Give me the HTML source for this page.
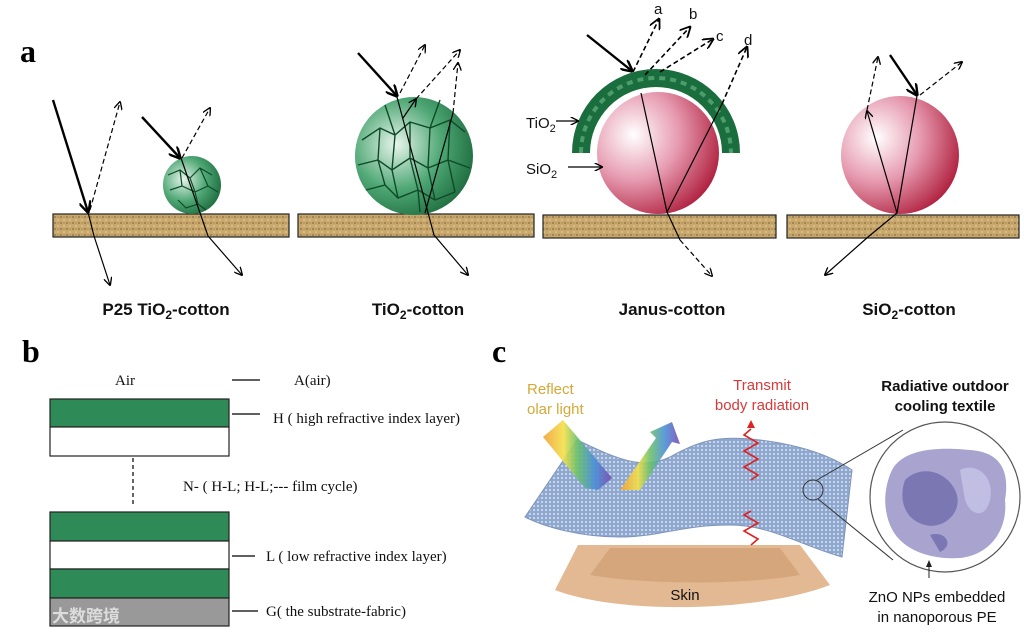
<!DOCTYPE html>
<html><head><meta charset="utf-8"><style>
html,body{margin:0;padding:0;background:#fff;}
svg{display:block}
.lb{font-family:"Liberation Sans",sans-serif;font-weight:bold;font-size:17px;fill:#111}
.se{font-family:"Liberation Serif",serif;font-size:15px;fill:#111}
.sa{font-family:"Liberation Sans",sans-serif;font-size:15px}
</style></head><body>
<svg width="1024" height="636" viewBox="0 0 1024 636" xmlns="http://www.w3.org/2000/svg">
<defs>
<pattern id="cot" width="6" height="6" patternUnits="userSpaceOnUse">
<rect width="6" height="6" fill="#c9a86e"/><circle cx="1" cy="1" r="0.9" fill="#8a6a3a"/><circle cx="4" cy="4" r="0.8" fill="#e6d2a6"/><circle cx="4" cy="1" r="0.6" fill="#9c7b45"/>
</pattern>
<pattern id="mesh" width="4" height="4" patternUnits="userSpaceOnUse">
<rect width="4" height="4" fill="#8ea8d0"/><circle cx="2" cy="2" r="1" fill="#d8e3f3"/>
</pattern>
<radialGradient id="gr" cx="0.35" cy="0.4" r="0.7"><stop offset="0" stop-color="#e8f5ec"/><stop offset="0.55" stop-color="#4ea774"/><stop offset="1" stop-color="#1d6b3e"/></radialGradient>
<radialGradient id="pk" cx="0.3" cy="0.35" r="0.75"><stop offset="0" stop-color="#fff"/><stop offset="0.5" stop-color="#e69ab0"/><stop offset="1" stop-color="#b0213f"/></radialGradient>
<linearGradient id="rb" x1="0" y1="0" x2="1" y2="0"><stop offset="0" stop-color="#f2a33a"/><stop offset="0.3" stop-color="#f3e04a"/><stop offset="0.5" stop-color="#6cc26a"/><stop offset="0.75" stop-color="#4a8fd8"/><stop offset="1" stop-color="#7a4bb0"/></linearGradient>
<marker id="ah" viewBox="0 0 10 10" refX="9" refY="5" markerWidth="7" markerHeight="7" orient="auto"><path d="M0,0 L10,5 L0,10" fill="none" stroke="#000" stroke-width="1.6"/></marker>
<marker id="ahb" viewBox="0 0 10 10" refX="9" refY="5" markerWidth="5" markerHeight="5" orient="auto"><path d="M0,0 L10,5 L0,10" fill="none" stroke="#000" stroke-width="2"/></marker>
</defs>

<text x="20" y="62" font-family="Liberation Serif,serif" font-weight="bold" font-size="32">a</text>
<g stroke="#222" stroke-width="1.2">
<rect x="53" y="214" width="236" height="23" fill="url(#cot)"/>
<rect x="298" y="214" width="236" height="23" fill="url(#cot)"/>
<rect x="543" y="215" width="233" height="23" fill="url(#cot)"/>
<rect x="787" y="215" width="232" height="23" fill="url(#cot)"/>
</g>
<circle cx="192" cy="185" r="29" fill="url(#gr)"/>
<g stroke="#0f4a28" stroke-width="1.2" fill="none"><path d="M168,175 L180,170 L190,178 L200,168 L212,175 M170,190 L182,186 L195,192 L208,186 L218,192 M178,200 L186,208 L198,204 L206,210 M180,170 L182,186 M195,192 L198,204 M190,178 L195,192 M200,168 L208,186"/></g>
<circle cx="414" cy="156" r="59" fill="url(#gr)"/>
<g stroke="#0f4a28" stroke-width="1.4" fill="none"><path d="M362,140 L380,128 L395,135 L410,122 L430,128 L450,120 L465,132 M358,165 L378,160 L392,170 L410,158 L428,168 L448,160 L470,168 M366,190 L385,185 L398,198 L418,190 L435,200 L455,192 M380,128 L378,160 L385,185 M395,135 L392,170 L398,198 M410,122 L410,158 L418,190 L420,212 M430,128 L428,168 L435,200 M450,120 L448,160 L455,192 M385,105 L395,135 M440,100 L430,128"/></g>

<g stroke="#000" fill="none">
<line x1="53" y1="100" x2="88" y2="212" stroke-width="2.4" marker-end="url(#ahb)"/>
<polyline points="88,212 94,236 110,285" stroke-width="1.2" marker-end="url(#ah)"/>
<line x1="90" y1="210" x2="120" y2="102" stroke-width="1.2" stroke-dasharray="5,3" marker-end="url(#ah)"/>
<line x1="142" y1="117" x2="180" y2="158" stroke-width="2.4" marker-end="url(#ahb)"/>
<polyline points="181,158 208,236 242,275" stroke-width="1.2" marker-end="url(#ah)"/>
<line x1="182" y1="158" x2="210" y2="108" stroke-width="1.2" stroke-dasharray="5,3" marker-end="url(#ah)"/>
<line x1="358" y1="53" x2="397" y2="96" stroke-width="2.4" marker-end="url(#ahb)"/>
<polyline points="397,97 434,235 468,275" stroke-width="1.2" marker-end="url(#ah)"/>
<line x1="400" y1="93" x2="425" y2="45" stroke-width="1.2" stroke-dasharray="5,3" marker-end="url(#ah)"/>
<line x1="403" y1="118" x2="416" y2="99" stroke-width="1.2" marker-end="url(#ah)"/>
<line x1="416" y1="99" x2="460" y2="50" stroke-width="1.2" stroke-dasharray="5,3" marker-end="url(#ah)"/>
<line x1="425" y1="213" x2="453" y2="113" stroke-width="1.2"/>
<line x1="453" y1="113" x2="458" y2="63" stroke-width="1.2" stroke-dasharray="5,3" marker-end="url(#ah)"/>
</g>

<path d="M572,153 A84,84 0 0 1 740,153 L722,153 A66,66 0 0 0 590,153 Z" fill="#1a6e3d"/>
<path d="M581,153 A75,75 0 0 1 731,153" fill="none" stroke="#6fbb8c" stroke-width="4" stroke-dasharray="6,5" opacity="0.6"/>
<circle cx="658" cy="153" r="61" fill="url(#pk)"/>
<g stroke="#000" fill="none">
<line x1="587" y1="35" x2="632" y2="71" stroke-width="2.4" marker-end="url(#ahb)"/>
<polyline points="641,93 667,212 680,240" stroke-width="1.2"/>
<line x1="680" y1="240" x2="712" y2="276" stroke-width="1.2" stroke-dasharray="5,3" marker-end="url(#ah)"/>
<line x1="633" y1="72" x2="659" y2="19" stroke-width="1.6" stroke-dasharray="5,3" marker-end="url(#ah)"/>
<line x1="645" y1="75" x2="690" y2="27" stroke-width="1.6" stroke-dasharray="5,3" marker-end="url(#ah)"/>
<line x1="660" y1="72" x2="713" y2="39" stroke-width="1.6" stroke-dasharray="5,3" marker-end="url(#ah)"/>
<line x1="667" y1="212" x2="722" y2="104" stroke-width="1.2"/>
<line x1="722" y1="104" x2="747" y2="47" stroke-width="1.6" stroke-dasharray="5,3" marker-end="url(#ah)"/>
<line x1="556" y1="121" x2="578" y2="121" stroke-width="1.2" marker-end="url(#ah)"/>
<line x1="568" y1="167" x2="602" y2="167" stroke-width="1.2" marker-end="url(#ah)"/>
</g>
<g class="sa" fill="#111">
<text x="654" y="14">a</text><text x="689" y="19">b</text><text x="716" y="41">c</text><text x="744" y="45">d</text>
<text x="526" y="128">TiO<tspan font-size="11" dy="4">2</tspan></text>
<text x="526" y="174">SiO<tspan font-size="11" dy="4">2</tspan></text>
</g>

<circle cx="900" cy="155" r="59" fill="url(#pk)"/>
<g stroke="#000" fill="none">
<line x1="890" y1="55" x2="917" y2="95" stroke-width="2.4" marker-end="url(#ahb)"/>
<polyline points="917,96 897,213 868,237 825,275" stroke-width="1.2" marker-end="url(#ah)"/>
<line x1="897" y1="213" x2="867" y2="111" stroke-width="1.2" marker-end="url(#ah)"/>
<line x1="867" y1="110" x2="878" y2="57" stroke-width="1.2" stroke-dasharray="5,3" marker-end="url(#ah)"/>
<line x1="920" y1="95" x2="962" y2="62" stroke-width="1.2" stroke-dasharray="5,3" marker-end="url(#ah)"/>
</g>

<text class="lb" x="166" y="315" text-anchor="middle">P25 TiO<tspan font-size="12" dy="4">2</tspan><tspan dy="-4">-cotton</tspan></text>
<text class="lb" x="418" y="315" text-anchor="middle">TiO<tspan font-size="12" dy="4">2</tspan><tspan dy="-4">-cotton</tspan></text>
<text class="lb" x="672" y="315" text-anchor="middle">Janus-cotton</text>
<text class="lb" x="909" y="315" text-anchor="middle">SiO<tspan font-size="12" dy="4">2</tspan><tspan dy="-4">-cotton</tspan></text>

<text x="22" y="362" font-family="Liberation Serif,serif" font-weight="bold" font-size="32">b</text>
<g stroke="#222" stroke-width="1.2">
<rect x="50" y="399" width="179" height="28" fill="#2e8b57"/>
<rect x="50" y="427" width="179" height="29" fill="#fff"/>
<rect x="50" y="512" width="179" height="29" fill="#2e8b57"/>
<rect x="50" y="541" width="179" height="28" fill="#fff"/>
<rect x="50" y="569" width="179" height="29" fill="#2e8b57"/>
<rect x="50" y="598" width="179" height="28" fill="#999"/>
<line x1="133" y1="458" x2="133" y2="507" stroke-dasharray="4,3" stroke="#000"/>
<line x1="232" y1="380" x2="260" y2="380" stroke="#000"/>
<line x1="232" y1="414" x2="260" y2="414" stroke="#000"/>
<line x1="232" y1="556" x2="255" y2="556" stroke="#000"/>
<line x1="232" y1="611" x2="258" y2="611" stroke="#000"/>
</g>
<text class="se" x="115" y="385">Air</text>
<text class="se" x="294" y="385">A(air)</text>
<text class="se" x="273" y="423">H ( high refractive index layer)</text>
<text class="se" x="183" y="491">N- ( H-L; H-L;--- film cycle)</text>
<text class="se" x="266" y="561">L ( low refractive index layer)</text>
<text class="se" x="266" y="616">G( the substrate-fabric)</text>
<text x="52" y="622" font-family="Liberation Sans,'Noto Sans CJK SC',sans-serif" font-size="17" fill="#ddd" font-weight="bold">大数跨境</text>

<text x="492" y="362" font-family="Liberation Serif,serif" font-weight="bold" font-size="32">c</text>
<path d="M555,590 L578,545 L800,545 L830,585 C760,612 620,615 555,590 Z" fill="#e3b993"/>
<path d="M590,575 L610,548 L780,548 L800,575 C740,585 650,585 590,575 Z" fill="#d5a57c"/>
<text x="685" y="600" class="sa" fill="#111" text-anchor="middle" font-size="16">Skin</text>
<path d="M577,440 C610,455 640,472 670,457 C700,440 720,435 760,440 C800,445 830,455 852,470 L842,557 C800,545 770,525 730,525 C680,525 660,537 620,537 C580,537 545,527 525,517 Z" fill="url(#mesh)" stroke="#7d94b8"/>
<g opacity="0.9">
<polygon points="543,437 563,420 612,478 598,490 585,488" fill="url(#rb)"/>
<polygon points="620,490 640,490 672,442 680,444 672,422 650,432 656,438" fill="url(#rb)"/>
</g>
<path d="M751,545 l7,-6 l-14,-8 l14,-8 l-14,-8 l7,-4 M751,480 l7,-5 l-14,-8 l14,-8 l-14,-8 l14,-8 l-14,-8 l7,-6" fill="none" stroke="#d22" stroke-width="1.6"/>
<polygon points="751,420 747,428 755,428" fill="#d22"/>
<circle cx="813" cy="490" r="10" fill="none" stroke="#333"/>
<line x1="817" y1="480" x2="903" y2="430" stroke="#333"/>
<line x1="818" y1="499" x2="893" y2="560" stroke="#333"/>
<circle cx="945" cy="497" r="75" fill="#fff" stroke="#555" stroke-width="1.2"/>
<path d="M892,470 C905,445 950,448 970,450 C1000,452 1010,470 1005,500 C1008,530 990,555 960,558 C930,560 900,550 890,525 C882,505 885,485 892,470 Z" fill="#9a93c8" opacity="0.85"/>
<path d="M905,480 C920,465 945,470 955,490 C965,510 945,530 925,525 C905,520 898,500 905,480 Z" fill="#5d5a9e" opacity="0.6"/>
<path d="M960,470 C975,462 995,475 990,500 C985,520 970,515 965,500 Z" fill="#c6c4e6" opacity="0.8"/>
<path d="M930,535 C945,530 955,545 940,552 Z" fill="#5d5a9e" opacity="0.6"/>
<line x1="929" y1="578" x2="929" y2="562" stroke="#222"/>
<polygon points="929,560 926,567 932,567" fill="#222"/>
<text x="527" y="394" class="sa" fill="#d4a93a">Reflect</text>
<text x="527" y="414" class="sa" fill="#d4a93a">olar light</text>
<text x="762" y="390" class="sa" fill="#d83a3a" text-anchor="middle">Transmit</text>
<text x="762" y="410" class="sa" fill="#d83a3a" text-anchor="middle">body radiation</text>
<text x="945" y="391" class="sa" fill="#111" font-weight="bold" text-anchor="middle">Radiative outdoor</text>
<text x="945" y="411" class="sa" fill="#111" font-weight="bold" text-anchor="middle">cooling textile</text>
<text x="937" y="602" class="sa" fill="#111" text-anchor="middle">ZnO NPs embedded</text>
<text x="937" y="622" class="sa" fill="#111" text-anchor="middle">in nanoporous PE</text>
</svg>
</body></html>
